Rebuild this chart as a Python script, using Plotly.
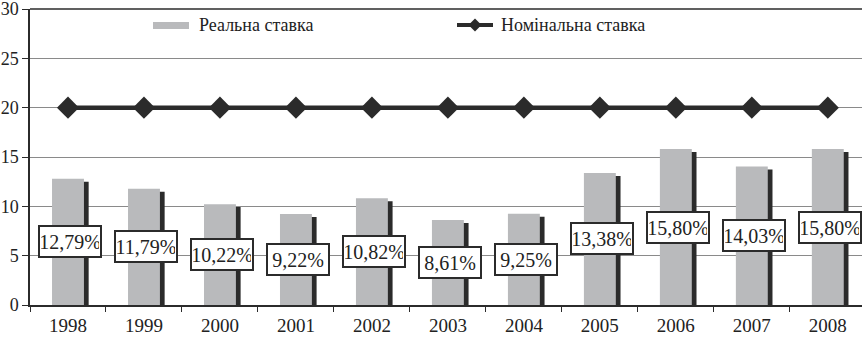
import plotly.graph_objects as go

# Interest rates by year, %
years = ["1998", "1999", "2000", "2001", "2002", "2003", "2004", "2005", "2006", "2007", "2008"]
real_rate = [12.79, 11.79, 10.22, 9.22, 10.82, 8.61, 9.25, 13.38, 15.80, 14.03, 15.80]
nominal_rate = [20, 20, 20, 20, 20, 20, 20, 20, 20, 20, 20]
y_ticks = [0, 5, 10, 15, 20, 25, 30]

SERIF = "Liberation Serif"
DARK = "#2b2b2b"
GREY_BAR = "#b9babc"

TOP, BOTTOM, LEFT = 9, 32, 30
PLOT_H = 337 - TOP - BOTTOM
PLOT_W = 862 - LEFT


def px_x(x):
    return (x - LEFT) / PLOT_W


def px_y(y):
    return (337 - BOTTOM - y) / PLOT_H


fig = go.Figure()

# dark "shadow" slab behind each bar gives the 3-D look
fig.add_trace(go.Bar(
    x=years, y=[v - 0.3 for v in real_rate],
    width=0.42, offset=-0.21 + 0.062,
    marker=dict(color=DARK, line=dict(width=0)),
    hoverinfo="skip", showlegend=False,
))
fig.add_trace(go.Bar(
    x=years, y=real_rate, name="Реальна ставка",
    width=0.42, offset=-0.21,
    marker=dict(color=GREY_BAR, line=dict(width=0)),
    showlegend=False,
))
fig.add_trace(go.Scatter(
    x=years, y=nominal_rate, name="Номінальна ставка",
    mode="lines+markers",
    line=dict(color=DARK, width=4.5),
    marker=dict(symbol="diamond", size=17, color=DARK),
    showlegend=False,
))

# boxed value labels at mid-height of each bar (x given as category index)
for i, v in enumerate(real_rate):
    fig.add_annotation(
        x=i, y=v / 2, xref="x", yref="y",
        text=f"{v:.2f}%".replace(".", ","),
        showarrow=False, xshift=2,
        width=58, height=27,
        font=dict(family=SERIF, size=20, color="#222"),
        bgcolor="white", bordercolor=DARK, borderwidth=2, borderpad=1,
    )

# legend drawn inside the plot area
fig.add_shape(type="rect", xref="paper", yref="paper",
              x0=px_x(153), x1=px_x(189), y0=px_y(29), y1=px_y(22),
              fillcolor=GREY_BAR, line=dict(width=0))
fig.add_annotation(xref="paper", yref="paper", x=px_x(197), y=px_y(25),
                   text="Реальна ставка", showarrow=False, xanchor="left", yanchor="middle",
                   font=dict(family=SERIF, size=18, color="#222"))
fig.add_shape(type="line", xref="paper", yref="paper",
              x0=px_x(457), x1=px_x(493), y0=px_y(25), y1=px_y(25),
              line=dict(color=DARK, width=4))
fig.add_trace(go.Scatter(
    x=[px_x(475)], y=[px_y(25)], xaxis="x2", yaxis="y2",
    mode="markers", marker=dict(symbol="diamond", size=10, color=DARK),
    hoverinfo="skip", showlegend=False,
))
fig.add_annotation(xref="paper", yref="paper", x=px_x(499), y=px_y(25),
                   text="Номінальна ставка", showarrow=False, xanchor="left", yanchor="middle",
                   font=dict(family=SERIF, size=18, color="#222"))

# top border of the plot area
fig.add_shape(type="line", xref="paper", yref="paper", x0=0, x1=1, y0=1, y1=1,
              line=dict(color=DARK, width=1.5))

fig.update_layout(
    width=862, height=337,
    margin=dict(l=LEFT, r=0, t=TOP, b=BOTTOM),
    paper_bgcolor="white", plot_bgcolor="white",
    barmode="overlay",
    font=dict(family=SERIF),
    xaxis=dict(
        type="category", range=[-0.5, 10.45], automargin=False,
        tickson="boundaries", ticks="outside", ticklen=5, tickcolor=DARK,
        showline=True, linecolor=DARK, linewidth=1.5,
        showgrid=False, ticklabelstandoff=2,
        tickfont=dict(family=SERIF, size=19, color="#222"),
    ),
    yaxis=dict(
        range=[0, 30], tickvals=y_ticks, automargin=False,
        ticks="outside", ticklen=6, tickcolor=DARK,
        showline=True, linecolor=DARK, linewidth=1.5,
        showgrid=True, gridcolor="#8a8a8a", gridwidth=1,
        zeroline=False, ticklabeloverflow="allow", ticklabelstandoff=0,
        tickfont=dict(family=SERIF, size=18, color="#222"),
    ),
    xaxis2=dict(overlaying="x", range=[0, 1], visible=False),
    yaxis2=dict(overlaying="y", range=[0, 1], visible=False),
)

fig.write_html("out.html")
